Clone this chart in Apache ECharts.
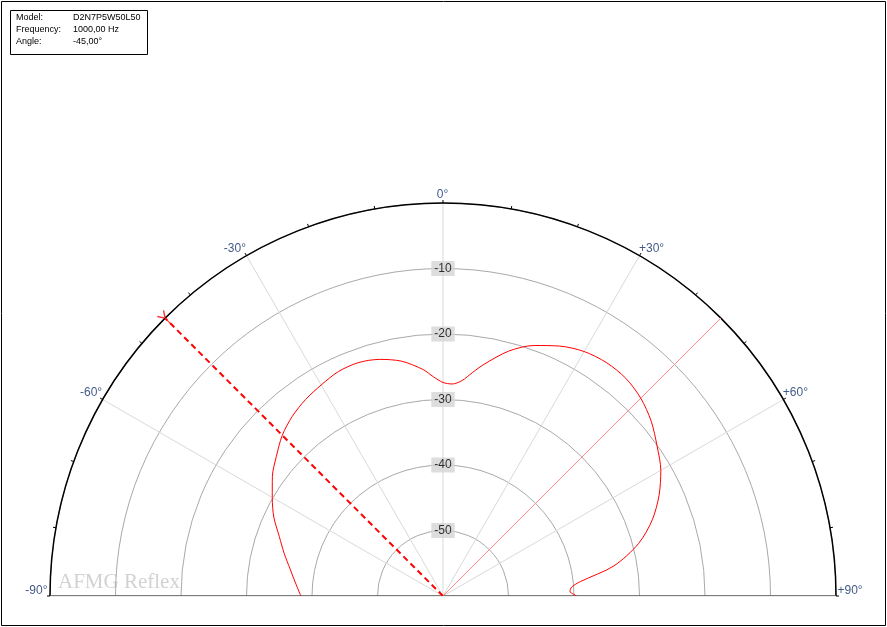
<!DOCTYPE html>
<html><head><meta charset="utf-8">
<script src="https://cdn.jsdelivr.net/npm/echarts@6/dist/echarts.min.js"></script>
<style>html,body{margin:0;padding:0;background:#fff;overflow:hidden}#c{width:887px;height:627px}</style>
</head><body><div id="c"></div>
<script>
// ---- data ----
const curveAngles = [-90,-85,-80,-75,-70,-65,-60,-55,-50,-45,-40,-35,-30,-25,-20,-15,-10,-5,-2.5,0,2.5,5,7.5,10,15,20,25,30,35,40,45,50,55,60,65,70,75,80,84,86,88,89,90];
const curveLevels = [-38.3,-37.4,-36.3,-34.9,-33.4,-31.5,-29.9,-28.2,-26.8,-25.3,-24.2,-23.4,-22.8,-22.2,-22.1,-22.6,-23.6,-25.3,-26.5,-27.4,-27.6,-27.0,-25.6,-24.1,-21.3,-19.3,-17.9,-16.9,-16.5,-16.6,-17.3,-18.5,-20.1,-21.6,-23.6,-26.0,-29.1,-33.5,-38.9,-40.3,-40.6,-40.2,-39.6];
const ringLabels = [-10,-20,-30,-40,-50];
const angleLabels = [-90,-60,-30,0,30,60,90];
const infoLabels = ['Model:','Frequency:','Angle:'];
const infoValues = ['D2N7P5W50L50','1000,00 Hz','-45,00°'];
const markerAngle = -45;
const refAngle = 45;
const rMin = -60, rMax = 0;

// ---- chart ----
const chart = echarts.init(document.getElementById('c'), null, {renderer:'canvas'});
const font = 'Liberation Sans, Arial, sans-serif';

function angleLabelCfg(a){
  if (a === 0) return {align:'center', verticalAlign:'bottom', offset:[0,-2]};
  if (a === -90) return {align:'right', verticalAlign:'bottom', offset:[-2,1]};
  if (a === 90) return {align:'left', verticalAlign:'bottom', offset:[2,1]};
  if (a < 0) return {align:'right', verticalAlign:'bottom', offset:[0,0]};
  return {align:'left', verticalAlign:'bottom', offset:[0,0]};
}

const graphics = [
  {type:'rect', shape:{x:1.5,y:1.5,width:884,height:624}, style:{fill:'none', stroke:'#000', lineWidth:1}, silent:true},
  {type:'rect', shape:{x:10.5,y:10.5,width:137,height:44}, style:{fill:'#fff', stroke:'#000', lineWidth:1}, silent:true},
  {type:'text', left:58, top:572, style:{text:'AFMG Reflex', font:'21px "Liberation Serif", "Times New Roman", serif', fill:'#d2d2d2'}, silent:true}
];
infoLabels.forEach((t,i)=>{
  graphics.push({type:'text', x:16, y:17.5+12*i, style:{text:t, font:'9px '+font, fill:'#000', textVerticalAlign:'middle'}, silent:true});
  graphics.push({type:'text', x:73, y:17.5+12*i, style:{text:infoValues[i], font:'9px '+font, fill:'#000', textVerticalAlign:'middle'}, silent:true});
});

const ySymbol = 'path://M10.83,9.45 L9.17,10.55 L3.17,1.55 L4.83,0.45 Z M9.17,9.45 L10.83,10.55 L16.83,1.55 L15.17,0.45 Z M9.2,10 L10.8,10 L10.8,19.55 L9.2,19.55 Z';

const option = {
  animation:false,
  backgroundColor:'#fff',
  graphic: graphics,
  polar:{center:[443,596], radius:393},
  angleAxis:{
    type:'value', min:-90, max:90, startAngle:180, endAngle:0, clockwise:true, interval:30,
    axisLine:{show:true, lineStyle:{color:'#000', width:1.5}},
    axisTick:{show:true, length:3, lineStyle:{color:'#000', width:1}},
    minorTick:{show:true, splitNumber:3, length:3, lineStyle:{color:'#000', width:1}},
    axisLabel:{show:false},
    splitLine:{show:true, lineStyle:{color:'#d9d9d9', width:1}}
  },
  radiusAxis:{
    type:'value', min:rMin, max:rMax, interval:10,
    axisLine:{show:false}, axisTick:{show:false}, axisLabel:{show:false},
    splitLine:{show:true, lineStyle:{color:'#a9a9a9', width:1}}
  },
  series:[
    {
      name:'baseline', type:'line', coordinateSystem:'polar', symbol:'none', silent:true, z:3,
      data:[[rMax,-90],[rMin,-90],[rMin,90],[rMax,90]],
      lineStyle:{color:'#555', width:1.5}
    },
    {
      name:'ref', type:'line', coordinateSystem:'polar', symbol:'none', silent:true, z:3,
      data:[[rMin,refAngle],[rMax,refAngle]],
      lineStyle:{color:'#ff8a8a', width:1}
    },
    {
      name:'response', type:'line', coordinateSystem:'polar', symbol:'none', smooth:0.3, silent:true, z:4,
      data:curveAngles.map((a,i)=>[curveLevels[i], a]),
      lineStyle:{color:'#ff0000', width:1}
    },
    {
      name:'marker', type:'line', coordinateSystem:'polar', symbol:'none', silent:true, z:5,
      data:[[rMin,markerAngle],[rMax,markerAngle]],
      lineStyle:{color:'#ff0000', width:2, type:[6,4]}
    },
    {
      name:'markerEnd', type:'scatter', coordinateSystem:'polar', silent:true, z:6,
      symbol:ySymbol, symbolSize:14, symbolRotate:-markerAngle, symbolKeepAspect:true,
      itemStyle:{color:'#ff0000'},
      data:[[rMax,markerAngle]]
    },
    {
      name:'ringLabels', type:'scatter', coordinateSystem:'polar', symbolSize:1, silent:true, z:6,
      itemStyle:{color:'transparent'},
      data:ringLabels.map(v=>[v,0]),
      label:{show:true, position:'inside', formatter:p=>String(p.value[0]), color:'#000', fontSize:12, fontFamily:font,
        backgroundColor:'#d4d4d4', padding:[1,3,1,3], lineHeight:13}
    },
    {
      name:'angleLabels', type:'scatter', coordinateSystem:'polar', symbolSize:1, silent:true, z:6,
      itemStyle:{color:'transparent'},
      data:angleLabels.map(a=>{
        const c = angleLabelCfg(a);
        return {value:[rMax,a], label:{show:true, position:[0,0], align:c.align, verticalAlign:c.verticalAlign, offset:c.offset}};
      }),
      label:{show:true, formatter:p=>{const a=p.value[1]; return (a>0?'+':'')+a+'°';}, color:'#12306a', fontSize:12, fontFamily:font}
    }
  ]
};
chart.setOption(option);
</script>
</body></html>
